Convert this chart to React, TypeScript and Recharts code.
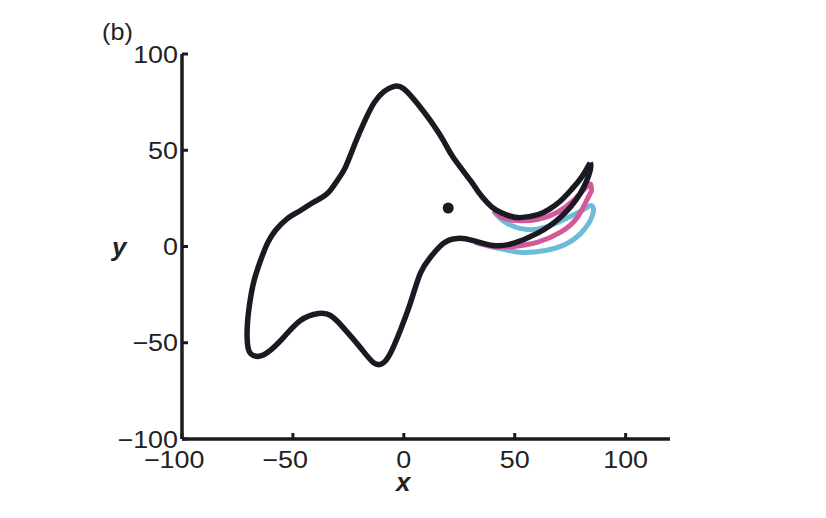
import React from "react";
import { ComposedChart, Line, XAxis, YAxis, ReferenceDot } from "recharts";

// outline of the elephant (x, y)
const outline: [number, number][] = [
  [84.0, 43.5], [80.0, 35.8], [75.5, 29.5], [70.5, 23.5], [65.5, 19.3],
  [60.5, 16.5], [52.5, 15.0], [46.5, 16.3], [41.5, 19.0], [37.6, 22.8],
  [33.5, 28.5], [30.0, 34.3], [22.3, 46.2], [17.8, 55.1], [11.9, 65.5],
  [6.1, 74.3], [-0.2, 82.1], [-4.7, 83.1], [-9.0, 80.5], [-13.2, 75.0],
  [-17.3, 66.0], [-22.0, 53.5], [-26.4, 41.0], [-30.0, 34.3], [-34.5, 27.5],
  [-40.8, 22.9], [-46.6, 18.7], [-52.5, 14.5], [-57.9, 8.3], [-61.5, 1.6],
  [-64.6, -7.3], [-67.5, -17.7], [-69.3, -28.1], [-70.5, -40.0], [-70.5, -50.4],
  [-69.1, -55.6], [-66.0, -57.1], [-61.5, -55.1], [-54.3, -47.3], [-46.6, -38.4],
  [-38.5, -34.8], [-33.1, -35.8], [-27.3, -42.1], [-19.6, -52.5], [-13.7, -60.3],
  [-9.7, -60.8], [-6.1, -55.6], [-1.6, -43.6], [2.9, -29.6], [7.4, -14.0],
  [11.9, -5.7], [17.8, 1.6], [24.1, 4.2], [31.3, 3.1], [40.3, 0.5],
  [49.3, 1.6], [60.1, 6.8], [70.5, 15.1], [79.5, 27.5], [84.0, 39.5],
  [84.0, 43.5],
];

// trunk positions drawn in colour
const trunkPink: [number, number][] = [
  [40.5, 18.8], [44.5, 15.0], [51.1, 13.5], [60.1, 14.0], [69.1, 17.7],
  [76.4, 23.9], [82.7, 31.2], [84.3, 32.0], [84.6, 29.1], [83.1, 25.5],
  [78.2, 15.1], [70.5, 7.3], [60.1, 2.1], [49.3, 0.0], [40.3, 0.0], [32.0, 2.4],
];

const trunkCyan: [number, number][] = [
  [40.5, 18.3], [45.5, 12.8], [55.6, 8.8], [66.0, 10.9], [75.0, 15.6],
  [81.8, 19.7], [84.5, 21.3], [85.4, 17.7], [81.3, 8.8], [73.6, 1.6],
  [63.7, -2.1], [52.9, -3.1], [45.7, -1.6], [39.0, 0.0], [32.0, 2.2],
];

const eye = { x: 20, y: 20 };

const xTicks = [-100, -50, 0, 50, 100];
const yTicks = [-100, -50, 0, 50, 100];

const toRows = (pts: [number, number][]) => pts.map(([x, y]) => ({ x, y }));

const INK = "#1b1a22";
const FONT = "'Liberation Sans', Arial, Helvetica, sans-serif";
const FS = 24;
const SX = 1.12;

function splitLabel(v: number) {
  return { neg: v < 0, digits: String(Math.abs(v)) };
}

function XTick(props: any) {
  const { x, y, payload } = props;
  const { neg, digits } = splitLabel(payload.value);
  const half = (digits.length * 0.556 * FS) / 2;
  return (
    <g>
      <line x1={x} y1={y} x2={x} y2={y - 6} stroke={INK} strokeWidth={3} />
      <g transform={`translate(${x},${y + 29}) scale(${SX},1)`}>
        <text x={0} y={0} textAnchor="middle" fontFamily={FONT} fontSize={FS} fill="#222">
          {digits}
        </text>
        {neg && (
          <text x={-half} y={0} textAnchor="end" fontFamily={FONT} fontSize={FS} fill="#222">
            −
          </text>
        )}
      </g>
    </g>
  );
}

function YTick(props: any) {
  const { x, y, payload } = props;
  const label = payload.value < 0 ? `−${Math.abs(payload.value)}` : String(payload.value);
  return (
    <g>
      <line x1={x} y1={y} x2={x + 6} y2={y} stroke={INK} strokeWidth={3} />
      <g transform={`translate(${x - 4},${y + 8.5}) scale(${SX},1)`}>
        <text x={0} y={0} textAnchor="end" fontFamily={FONT} fontSize={FS} fill="#222">
          {label}
        </text>
      </g>
    </g>
  );
}

export default function App() {
  return (
    <div style={{ position: "absolute", left: 0, top: 0, width: 826, height: 518, background: "#fff" }}>
      <ComposedChart width={826} height={518} margin={{ top: 54, right: 156, bottom: 39, left: 122 }}>
        <XAxis
          type="number"
          dataKey="x"
          domain={[-100, 120]}
          ticks={xTicks}
          allowDataOverflow
          height={40}
          tickSize={0}
          tickMargin={0}
          tickLine={false}
          axisLine={{ stroke: INK, strokeWidth: 3.5 }}
          tick={<XTick />}
        />
        <YAxis
          type="number"
          dataKey="y"
          domain={[-100, 100]}
          ticks={yTicks}
          allowDataOverflow
          width={60}
          tickSize={0}
          tickMargin={0}
          tickLine={false}
          axisLine={{ stroke: INK, strokeWidth: 3.5 }}
          tick={<YTick />}
        />
        <Line
          data={toRows(trunkCyan)}
          dataKey="y"
          type="natural"
          stroke="#6cbcd8"
          strokeWidth={5}
          strokeLinejoin="round"
          dot={false}
          activeDot={false}
          isAnimationActive={false}
        />
        <Line
          data={toRows(trunkPink)}
          dataKey="y"
          type="natural"
          stroke="#d2599b"
          strokeWidth={5}
          strokeLinejoin="round"
          dot={false}
          activeDot={false}
          isAnimationActive={false}
        />
        <Line
          data={toRows(outline)}
          dataKey="y"
          type="natural"
          stroke={INK}
          strokeWidth={5.5}
          strokeLinejoin="round"
          dot={false}
          activeDot={false}
          isAnimationActive={false}
        />
        <ReferenceDot x={eye.x} y={eye.y} r={5.5} fill={INK} stroke="none" />
      </ComposedChart>
      <div style={{ position: "absolute", left: 102, top: 18, font: `24px ${FONT}`, color: "#222", transform: "scaleX(1.05)", transformOrigin: "left" }}>
        (b)
      </div>
      <div style={{ position: "absolute", left: 112, top: 232, font: `italic bold 26px ${FONT}`, color: "#222" }}>
        y
      </div>
      <div style={{ position: "absolute", left: 396, top: 469, lineHeight: 1, font: `italic bold 26px/1 ${FONT}`, color: "#222" }}>
        x
      </div>
    </div>
  );
}
